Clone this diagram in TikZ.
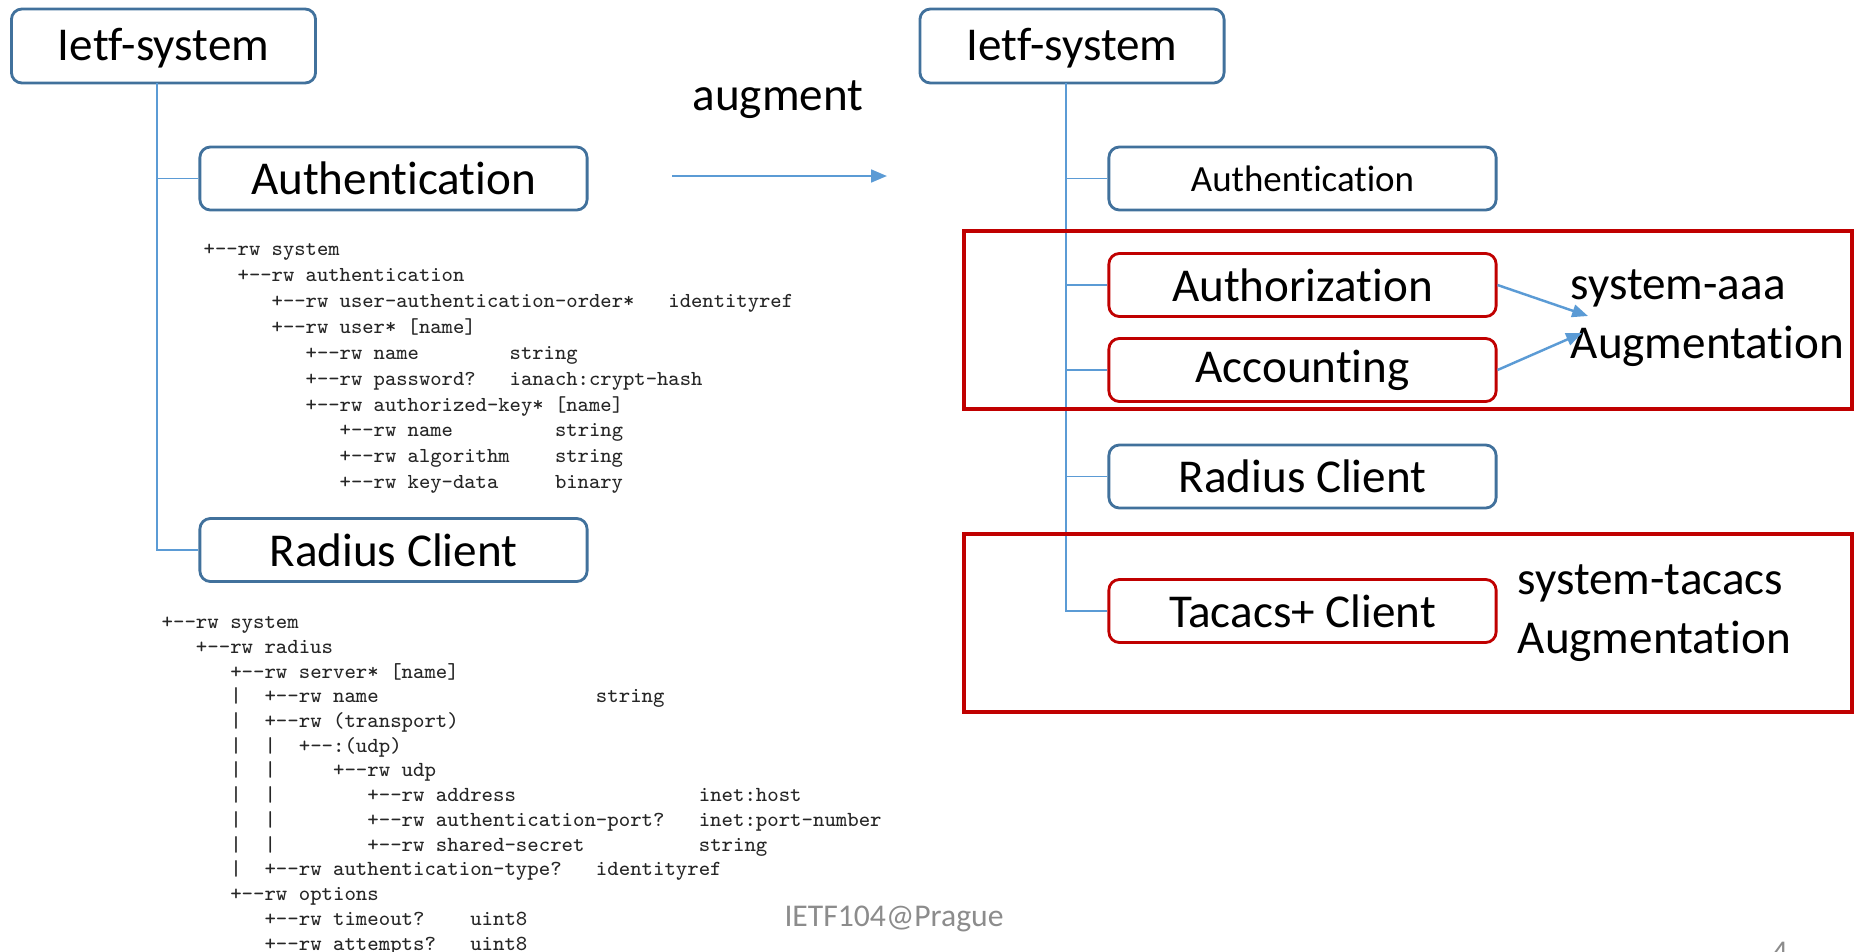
\documentclass[tikz,border=0pt]{standalone}
\usepackage{fontspec}
\setmainfont{Carlito}[Ligatures=NoCommon]
\usetikzlibrary{arrows.meta}

\definecolor{boxblue}{RGB}{65,113,156}
\definecolor{boxred}{RGB}{192,0,0}
\definecolor{lineblue}{RGB}{91,155,213}
\definecolor{footgrey}{RGB}{140,140,140}

\newcommand{\bigtext}{\fontsize{13.4pt}{16.6pt}\selectfont}
\newcommand{\smalltext}{\fontsize{10.5pt}{12pt}\selectfont}
\newcommand{\ybr}{+-{}-}

\tikzset{
  bluebox/.style={draw=boxblue, line width=0.8pt, rounded corners=3pt, minimum width=3.87cm, minimum height=0.63cm, inner sep=0pt, font=\bigtext},
  redbox/.style={bluebox, draw=boxred},
  rootbox/.style={bluebox, minimum width=3.04cm, minimum height=0.74cm, text height=0.8em, text depth=0pt},
  treeline/.style={lineblue, line width=0.5pt},
  codetext/.style={anchor=north west, align=left, inner sep=0pt, text=black!85},
  sidelabel/.style={font=\bigtext, align=left, anchor=west, inner sep=0pt},
  augarrow/.style={lineblue, line width=0.7pt, -{Triangle[length=4.5pt,width=3.6pt]}},
}

\begin{document}
\begin{tikzpicture}[x=0.01cm, y=-0.01cm]
      \useasboundingbox (0,0) rectangle (1854,951);

      % left tree
      \node[rootbox] (sysL) at (163.5,46) {Ietf-system};
      \node[bluebox] (authL) at (393.5,178.5) {Authentication};
      \node[bluebox] (radL) at (393.5,550) {Radius Client};
      \coordinate (trunkL) at (157,83);
      \draw[treeline] (trunkL) |- (authL.west);
      \draw[treeline] (trunkL) |- (radL.west);

      \node[codetext, font=\ttfamily\fontsize{6.07pt}{7.37pt}\selectfont] (codeAuth) at (203,243) {%
\ybr rw~system\\
~~~\ybr rw~authentication\\
~~~~~~\ybr rw~user-authentication-order*~~~identityref\\
~~~~~~\ybr rw~user*~[name]\\
~~~~~~~~~\ybr rw~name~~~~~~~~string\\
~~~~~~~~~\ybr rw~password?~~~ianach:crypt-hash\\
~~~~~~~~~\ybr rw~authorized-key*~[name]\\
~~~~~~~~~~~~\ybr rw~name~~~~~~~~~string\\
~~~~~~~~~~~~\ybr rw~algorithm~~~~string\\
~~~~~~~~~~~~\ybr rw~key-data~~~~~binary};

      \node[codetext, font=\ttfamily\fontsize{6.12pt}{7.03pt}\selectfont] (codeRad) at (161,616) {%
\ybr rw~system\\
~~~\ybr rw~radius\\
~~~~~~\ybr rw~server*~[name]\\
~~~~~~|~~\ybr rw~name~~~~~~~~~~~~~~~~~~~string\\
~~~~~~|~~\ybr rw~(transport)\\
~~~~~~|~~|~~\ybr :(udp)\\
~~~~~~|~~|~~~~~\ybr rw~udp\\
~~~~~~|~~|~~~~~~~~\ybr rw~address~~~~~~~~~~~~~~~~inet:host\\
~~~~~~|~~|~~~~~~~~\ybr rw~authentication-port?~~~inet:port-number\\
~~~~~~|~~|~~~~~~~~\ybr rw~shared-secret~~~~~~~~~~string\\
~~~~~~|~~\ybr rw~authentication-type?~~~identityref\\
~~~~~~\ybr rw~options\\
~~~~~~~~~\ybr rw~timeout?~~~~uint8\\
~~~~~~~~~\ybr rw~attempts?~~~uint8};

      % augment arrow
      \node[font=\bigtext] (augLabel) at (778,100) {augment};
      \coordinate (augFrom) at (672,176);
      \coordinate (augTo) at (887,176);
      \draw[augarrow] (augFrom) -- (augTo);

      % right tree
      \node[rootbox] (sysR) at (1072,46) {Ietf-system};
      \node[bluebox, font=\smalltext] (authR) at (1302.5,178.5) {Authentication};
      \node[redbox] (authz) at (1302.5,285) {Authorization};
      \node[redbox] (acct) at (1302.5,370) {Accounting};
      \node[bluebox] (radR) at (1302.5,476.5) {Radius Client};
      \node[redbox] (tacacs) at (1302.5,611) {Tacacs+ Client};
      \coordinate (trunkR) at (1066,83);
      \foreach \kid in {authR,authz,acct,radR,tacacs}
        \draw[treeline] (trunkR) |- (\kid.west);

      % augmentation frames
      \draw[boxred, line width=1pt] (964,231) rectangle (1852,409);
      \draw[boxred, line width=1pt] (964,534) rectangle (1852,712);

      \node[sidelabel] (aaaLabel) at (1570,318) {system-aaa\\Augmentation};
      \node[sidelabel] (tacLabel) at (1517,613) {system-tacacs\\Augmentation};
      \coordinate (aaaTipA) at (1588,316);
      \coordinate (aaaTipB) at (1582,333);
      \draw[augarrow] (authz.east) -- (aaaTipA);
      \draw[augarrow] (acct.east) -- (aaaTipB);

      % footer
      \node[font=\fontsize{9pt}{11pt}\selectfont, text=footgrey] (footer) at (894,919) {IETF104@Prague};
      \node[font=\fontsize{9pt}{11pt}\selectfont, text=footgrey] (pageNo) at (1780,952) {4};

    \end{tikzpicture}
\end{document}
